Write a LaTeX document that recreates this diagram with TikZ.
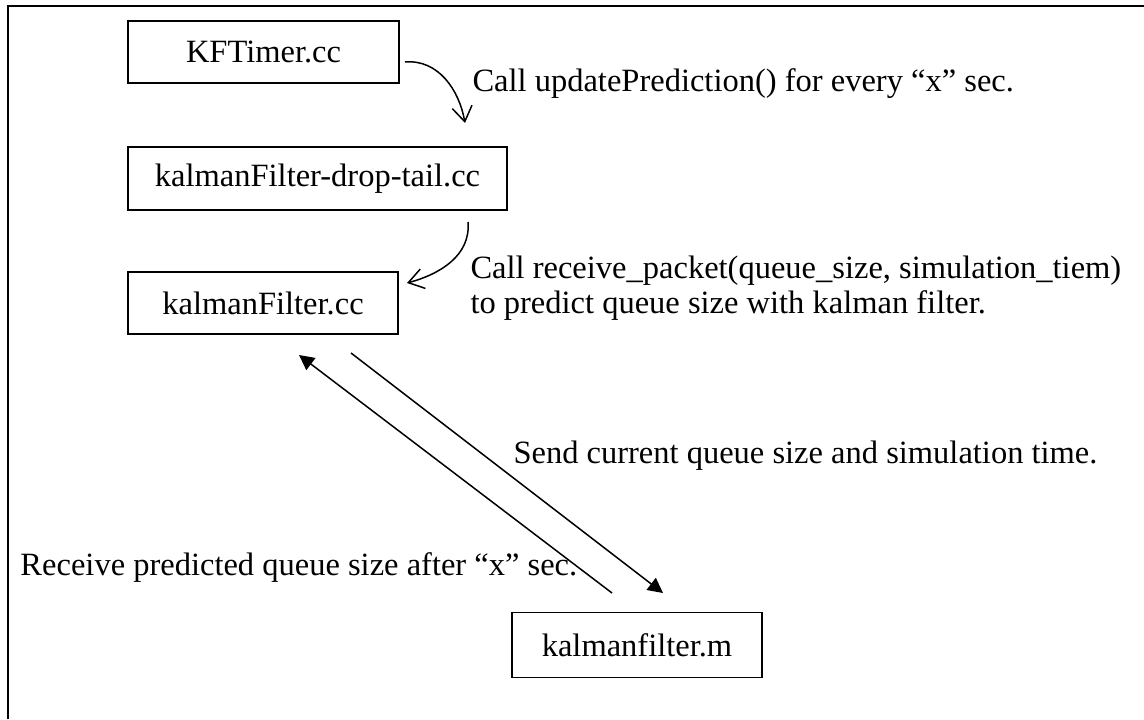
\documentclass[tikz,border=0pt]{standalone}
\usepackage{fontspec}
\setmainfont{Liberation Serif}
\usetikzlibrary{arrows.meta}

\tikzset{
    file/.style={draw,line width=0.6pt,inner sep=0pt,font=\fontsize{13}{14}\selectfont},
    note/.style={inner sep=0pt,font=\fontsize{13}{14}\selectfont},
    call/.style={line width=0.6pt,-{Straight Barb[length=6pt,width=8pt]}},
    msg/.style={line width=0.6pt,-{Triangle[length=6pt,width=6pt]}}
}

\begin{document}
\begin{tikzpicture}[x=0.4pt,y=-0.4pt]
    \useasboundingbox (0,0) rectangle (1144,719);
    \draw [line width=0.8pt] (8,719) -- (8,6) -- (1144,6);

    \node [file,minimum width=108.4pt,minimum height=24.8pt] (timer) at (263.5,52) {KFTimer.cc};
    \node [file,minimum width=151.6pt,minimum height=25.2pt] (droptail) at (317.5,178.5) {kalmanFilter-drop-tail.cc};
    \node [file,minimum width=108pt,minimum height=24.8pt] (kfcc) at (263,303) {kalmanFilter.cc};
    \node [file,minimum width=100pt,minimum height=26pt] (kfm) at (637,645) {kalmanfilter.m};

    \node [note,anchor=base west] (update) at (472,92) {Call updatePrediction() for every “x” sec.};
    \node [note,anchor=base west,align=left] (receive) at (470,313)
    {Call receive\_packet(queue\_size, simulation\_tiem)\\to predict queue size with kalman filter.};
    \node [note,anchor=base west] (send) at (513,463) {Send current queue size and simulation time.};
    \node [note,anchor=base west] (predicted) at (20,575) {Receive predicted queue size after “x” sec.};

    \coordinate (timerout) at (405,62);
    \coordinate (dropin) at (465,123);
    \coordinate (dropout) at (468,222);
    \coordinate (kfin) at (407,283);
    \coordinate (kfback) at (299,355);
    \coordinate (kfsend) at (351,353);
    \coordinate (mback) at (612,593);
    \coordinate (min) at (663,593);

    \draw [call] (timerout) to [out=5,in=100] (dropin);
    \draw [call] (dropout) to [out=-85,in=15] (kfin);
    \draw [msg] (mback) -- (kfback);
    \draw [msg] (kfsend) -- (min);
\end{tikzpicture}
\end{document}
